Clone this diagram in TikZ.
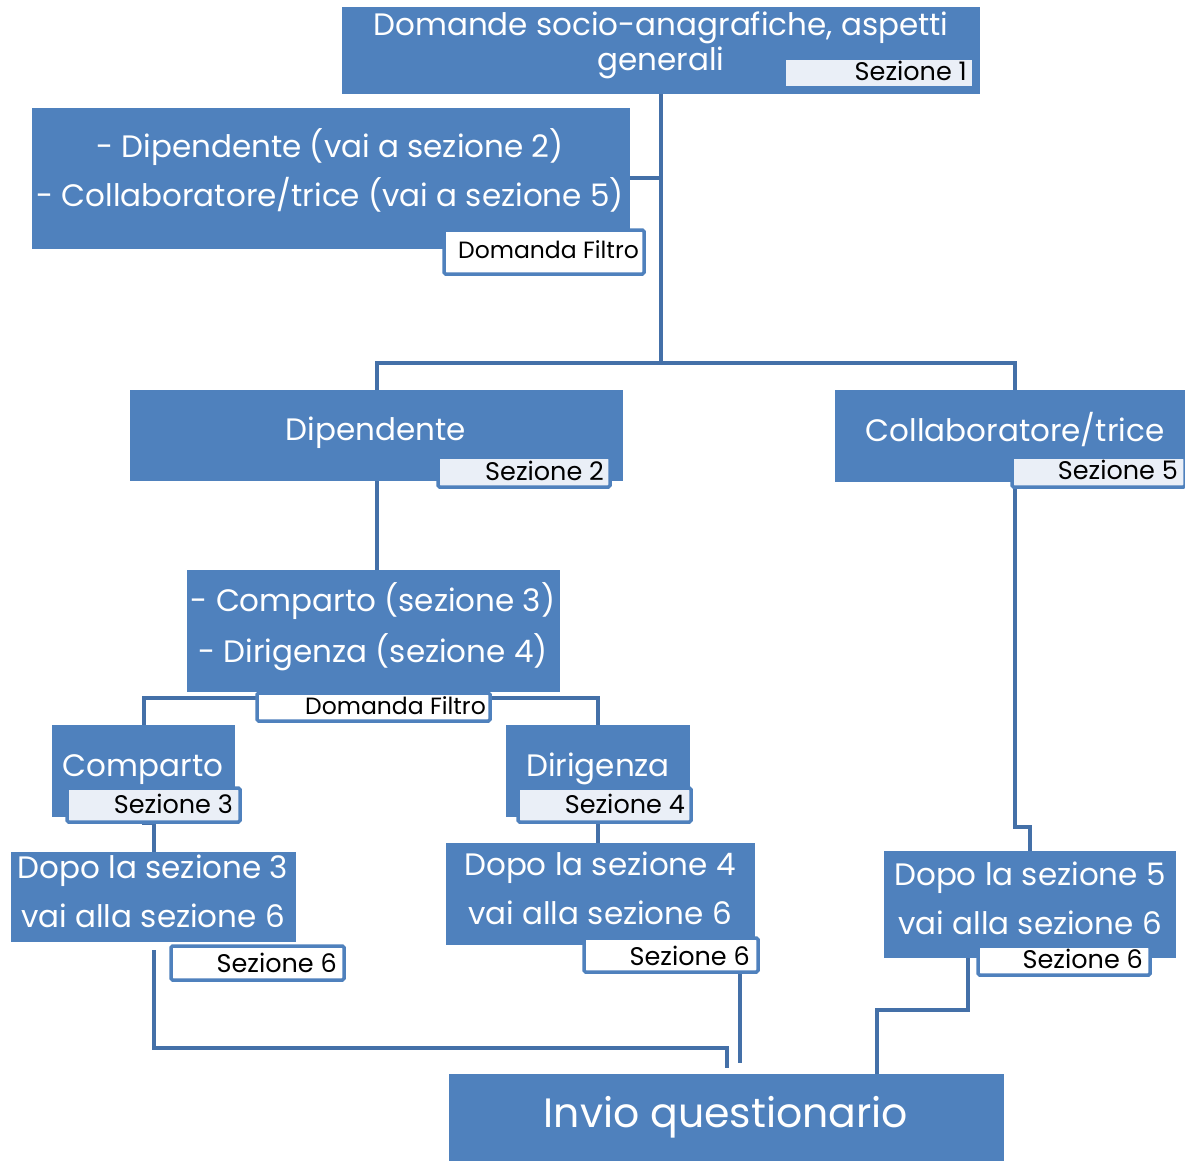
\documentclass[tikz,border=0pt]{standalone}
\usepackage{fontspec}
\setmainfont{Poppins}
\definecolor{boxblue}{HTML}{4F81BD}
\definecolor{connblue}{HTML}{4470A8}
\definecolor{lablight}{HTML}{EAEFF7}
\begin{document}
\begin{tikzpicture}[x=1pt,y=-1pt,
  box/.style={fill=boxblue, inner sep=0pt, outer sep=0pt},
  lab/.style={draw=boxblue, line width=3.5pt, fill=white, rounded corners=1.5pt, inner sep=0pt, outer sep=0pt},
  labl/.style={lab, fill=lablight},
  bt/.style={text=white, font=\fontsize{31}{31}\selectfont, anchor=base, inner sep=0pt},
  big/.style={bt, font=\fontsize{41}{41}\selectfont},
  lt/.style={text=black, font=\fontsize{25.5}{25.5}\selectfont, anchor=base east, inner sep=0pt},
  dft/.style={lt, font=\fontsize{23.5}{23.5}\selectfont},
  conn/.style={draw=connblue, line width=4pt}]
\useasboundingbox (0,0) rectangle (1185,1161);

% junction coordinates
\coordinate (j1) at (661,363);
\coordinate (jr) at (1015,363);
\coordinate (j2) at (373.5,698);
\coordinate (j3) at (1015,827);
\coordinate (j4) at (154,1048);
\coordinate (j5) at (740,1063);
\coordinate (j6) at (968,1010);
\coordinate (j7) at (877,1010);

% boxes
\node[box, minimum width=638, minimum height=87] (top) at (661,50.5) {};
\node[box, minimum width=598, minimum height=141] (f1) at (331,178.5) {};
\node[box, minimum width=493, minimum height=91] (dip) at (376.5,435.5) {};
\node[box, minimum width=350, minimum height=92] (coll) at (1010,436) {};
\node[box, minimum width=373, minimum height=122] (f2) at (373.5,631) {};
\node[box, minimum width=183, minimum height=92] (comp) at (143.5,771) {};
\node[box, minimum width=184, minimum height=92] (dir) at (598,771) {};
\node[box, minimum width=285, minimum height=90] (d3) at (153.5,897) {};
\node[box, minimum width=309, minimum height=102] (d4) at (600.5,894) {};
\node[box, minimum width=292, minimum height=107] (d5) at (1030,904.5) {};
\node[box, minimum width=555, minimum height=87] (inv) at (726.5,1117.5) {};

% connectors
\draw[conn] (top.south) -- (j1);
\draw[conn] (f1.east) -- (f1.east -| j1);
\draw[conn] (dip.north) |- (j1) -- (jr) -- (jr |- coll.north);
\draw[conn] (dip.south) -- (dip.south |- f2.north);
\draw[conn] (comp.north) |- (j2) -| (dir.north);
\draw[conn] (comp.south) -- ++(0,6) -| (d3.north);
\draw[conn] (dir.south) -- (dir.south |- d4.north);
\draw[conn] (coll.south -| j3) -- (j3) -| (d5.north);
\draw[conn, shorten <=8pt, shorten >=6pt] (d3.south) |- (j4) -| (inv.north);
\draw[conn] (d4.south -| j5) ++(0,28) -- (j5);
\draw[conn] (d5.south -| j6) -- (j6) -- (j7) -- (j7 |- inv.north);

% redraw boxes on top of connectors
\foreach \n in {top,f1,dip,coll,f2,comp,dir,d3,d4,d5,inv}
  \fill[boxblue] (\n.north west) rectangle (\n.south east);

% labels
\node[fill=lablight, minimum width=186, minimum height=26, inner sep=0pt] (s1) at (879,73) {};
\node[lab, minimum width=200, minimum height=44] (df1) at (544,252) {};
\node[labl, minimum width=172, minimum height=30] (s2) at (524,472) {};
\node[labl, minimum width=173, minimum height=30] (s5) at (1098.5,472) {};
\node[lab, minimum width=233, minimum height=28] (df2) at (373.5,707) {};
\node[labl, minimum width=173, minimum height=34] (s3) at (153.5,805) {};
\node[labl, minimum width=173, minimum height=34] (s4) at (604.5,805) {};
\node[lab, minimum width=173, minimum height=34] (s6a) at (257.5,963) {};
\node[lab, minimum width=174, minimum height=34] (s6b) at (671,955) {};
\node[lab, minimum width=172, minimum height=29] (s6c) at (1064,960.5) {};

% texts
\node[bt] (t1a) at (661,36) {Domande socio-anagrafiche, aspetti};
\node[bt] (t1b) at (661,71) {generali};
\node[lt] (s1t) at (967,81) {Sezione 1};
\node[bt] (f1a) at (330,158) {- Dipendente (vai a sezione 2)};
\node[bt] (f1b) at (330,207) {- Collaboratore/trice (vai a sezione 5)};
\node[dft] (df1t) at (639,258) {Domanda Filtro};
\node[bt] (dipt) at (376,440) {Dipendente};
\node[lt] (s2t) at (604,480) {Sezione 2};
\node[bt] (collt) at (1015,441) {Collaboratore/trice};
\node[lt] (s5t) at (1178,479) {Sezione 5};
\node[bt] (f2a) at (373,611) {- Comparto (sezione 3)};
\node[bt] (f2b) at (373,662) {- Dirigenza (sezione 4)};
\node[dft] (df2t) at (486,714) {Domanda Filtro};
\node[bt] (compt) at (143,776) {Comparto};
\node[lt] (s3t) at (233,813) {Sezione 3};
\node[bt] (dirt) at (598,776) {Dirigenza};
\node[lt] (s4t) at (685,813) {Sezione 4};
\node[bt] (d3a) at (153,878) {Dopo la sezione 3};
\node[bt] (d3b) at (153,927) {vai alla sezione 6};
\node[lt] (s6at) at (337,972) {Sezione 6};
\node[bt] (d4a) at (600,875) {Dopo la sezione 4};
\node[bt] (d4b) at (600,924) {vai alla sezione 6};
\node[lt] (s6bt) at (750,965) {Sezione 6};
\node[bt] (d5a) at (1030,885) {Dopo la sezione 5};
\node[bt] (d5b) at (1030,934) {vai alla sezione 6};
\node[lt] (s6ct) at (1143,968) {Sezione 6};
\node[big] (invt) at (726,1127) {Invio questionario};
\end{tikzpicture}
\end{document}
